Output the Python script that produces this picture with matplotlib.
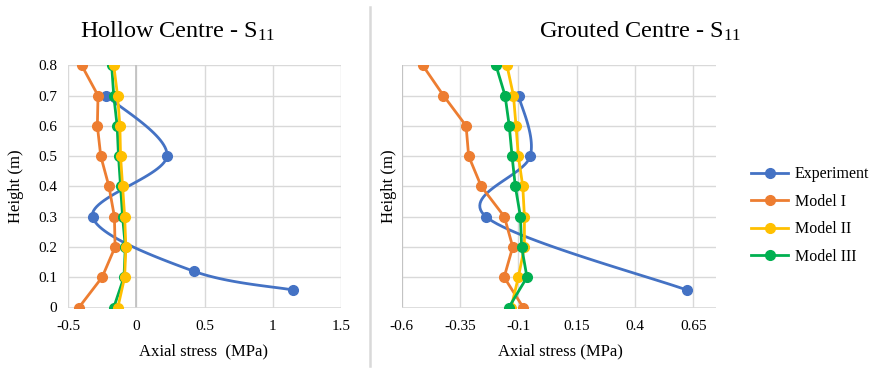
import matplotlib
matplotlib.use("Agg")
import matplotlib.pyplot as plt
import numpy as np
from matplotlib.lines import Line2D

plt.rcParams['font.family'] = ['Liberation Serif', 'DejaVu Serif']
plt.rcParams['mathtext.fontset'] = 'custom'
plt.rcParams['mathtext.rm'] = 'Liberation Serif'
plt.rcParams['mathtext.it'] = 'Liberation Serif:italic'

# ---- data ----
heights = [0.8, 0.7, 0.6, 0.5, 0.4, 0.3, 0.2, 0.1, 0.0]

# Hollow centre
hol_exp_x = [-0.22, 0.225, -0.32, 0.42, 1.145]
hol_exp_y = [0.7, 0.5, 0.3, 0.12, 0.058]
hol_m1 = [-0.40, -0.28, -0.285, -0.26, -0.20, -0.16, -0.155, -0.25, -0.42]
hol_m2 = [-0.165, -0.137, -0.12, -0.115, -0.10, -0.085, -0.076, -0.085, -0.135]
hol_m3 = [-0.18, -0.165, -0.14, -0.13, -0.115, -0.10, -0.08, -0.09, -0.165]

# Grouted centre
gro_exp_x = [-0.099, -0.049, -0.239, 0.621]
gro_exp_y = [0.7, 0.5, 0.3, 0.058]
gro_m1 = [-0.51, -0.421, -0.324, -0.313, -0.259, -0.16, -0.124, -0.161, -0.079]
gro_m2 = [-0.149, -0.121, -0.11, -0.10, -0.081, -0.074, -0.074, -0.10, -0.131]
gro_m3 = [-0.196, -0.157, -0.139, -0.127, -0.113, -0.091, -0.086, -0.063, -0.141]

labels = ['Experiment', 'Model I', 'Model II', 'Model III']
colors = ['#4472C4', '#ED7D31', '#FFC000', '#00B050']

W, H = 869, 370
fig = plt.figure(figsize=(W / 100, H / 100), dpi=100)


def smooth(ax, xs, ys, n=30):
    # Excel-like smoothed line (Catmull-Rom) computed in screen space
    x0, x1 = ax.get_xlim()
    y0, y1 = ax.get_ylim()
    pos = ax.get_position()
    sx = pos.width * W / (x1 - x0)
    sy = pos.height * H / (y1 - y0)
    p = np.column_stack([np.asarray(xs) * sx, np.asarray(ys) * sy])
    p = np.vstack([p[0], p, p[-1]])
    out = []
    for i in range(1, len(p) - 2):
        a, b, c, d = p[i - 1], p[i], p[i + 1], p[i + 2]
        c1 = b + (c - a) / 6
        c2 = c - (d - b) / 6
        t = np.linspace(0, 1, n)[:, None]
        seg = ((1 - t) ** 3) * b + 3 * ((1 - t) ** 2) * t * c1 + 3 * (1 - t) * t ** 2 * c2 + t ** 3 * c
        out.append(seg if i == 1 else seg[1:])
    out = np.vstack(out)
    return out[:, 0] / sx, out[:, 1] / sy


def setup(ax, xlim, xticks, show_y):
    ax.set_xlim(*xlim)
    ax.set_ylim(0, 0.8)
    ax.set_xticks(xticks)
    ax.set_yticks(np.arange(0, 0.81, 0.1))
    ax.set_xticklabels([('%g' % v) for v in xticks], fontsize=11)
    if show_y:
        ax.set_yticklabels(['0'] + ['%.1f' % v for v in np.arange(0.1, 0.81, 0.1)], fontsize=11)
    else:
        ax.set_yticklabels([])
    ax.grid(True, color='#d9d9d9', linewidth=1.0)
    ax.set_axisbelow(True)
    for s in ax.spines.values():
        s.set_visible(False)
    ax.tick_params(axis='x', length=0, pad=9)
    ax.tick_params(axis='y', length=0, pad=8)
    ax.set_ylabel('Height (m)', fontsize=12)


ms = 7
lw = 2.0
ax_h = 307.5 - 65.3

# left: hollow centre
ax1 = fig.add_axes([68 / W, 1 - 307.5 / H, (341 - 68) / W, ax_h / H])
setup(ax1, (-0.5, 1.5), [-0.5, 0, 0.5, 1, 1.5], True)
ax1.axvline(0, color='#bfbfbf', linewidth=1.2, zorder=1)
ax1.axhline(0, color='#d9d9d9', linewidth=1.2, zorder=1)
sx, sy = smooth(ax1, hol_exp_x, hol_exp_y)
ax1.plot(sx, sy, color=colors[0], lw=lw, zorder=2)
ax1.plot(hol_exp_x, hol_exp_y, 'o', color=colors[0], ms=ms, zorder=2)
ax1.plot(hol_m1, heights, '-o', color=colors[1], lw=lw, ms=ms, zorder=3)
ax1.plot(hol_m3, heights, '-o', color=colors[3], lw=lw, ms=ms, zorder=4)
ax1.plot(hol_m2, heights, '-o', color=colors[2], lw=lw, ms=ms, zorder=5)
ax1.set_xlabel('Axial stress  (MPa)', fontsize=12)
ax1.xaxis.set_label_coords((203 - 68) / 273, (307.5 - 343) / ax_h)
ax1.yaxis.set_label_coords((24 - 68) / 273, 0.5)
fig.text(178 / W, 1 - 31 / H, r'Hollow Centre - S$_{\mathrm{11}}$', fontsize=17.5,
         ha='center', va='center')

# right: grouted centre
ax2 = fig.add_axes([401.7 / W, 1 - 307.5 / H, (716 - 401.7) / W, ax_h / H])
setup(ax2, (-0.6, 0.7472), [-0.6, -0.35, -0.1, 0.15, 0.4, 0.65], False)
ax2.axvline(-0.6, color='#bfbfbf', linewidth=1.2, zorder=1)
ax2.axhline(0, color='#d9d9d9', linewidth=1.2, zorder=1)
sx, sy = smooth(ax2, gro_exp_x, gro_exp_y)
ax2.plot(sx, sy, color=colors[0], lw=lw, zorder=2)
ax2.plot(gro_exp_x, gro_exp_y, 'o', color=colors[0], ms=ms, zorder=2)
ax2.plot(gro_m1, heights, '-o', color=colors[1], lw=lw, ms=ms, zorder=3)
ax2.plot(gro_m2, heights, '-o', color=colors[2], lw=lw, ms=ms, zorder=4)
ax2.plot(gro_m3, heights, '-o', color=colors[3], lw=lw, ms=ms, zorder=5)
ax2.set_xlabel('Axial stress (MPa)', fontsize=12)
ax2.xaxis.set_label_coords((560 - 401.7) / (716 - 401.7), (307.5 - 343) / ax_h)
ax2.yaxis.set_label_coords((397 - 401.7) / (716 - 401.7), 0.5)
fig.text(640 / W, 1 - 31 / H, r'Grouted Centre - S$_{\mathrm{11}}$', fontsize=17.5,
         ha='center', va='center')

# divider
fig.add_artist(Line2D([370 / W, 370 / W], [1 - 7 / H, 1 - 366 / H], color='#d9d9d9', lw=1.8))

# legend
handles = [Line2D([], [], color=c, lw=lw, marker='o', ms=ms) for c in colors]
fig.legend(handles, labels, loc='upper left', bbox_to_anchor=(745 / W, 1 - 160 / H),
           frameon=False, fontsize=11.5, handlelength=2.3, handletextpad=0.4,
           labelspacing=0.72, borderaxespad=0)

fig.savefig('out.png', dpi=100)
